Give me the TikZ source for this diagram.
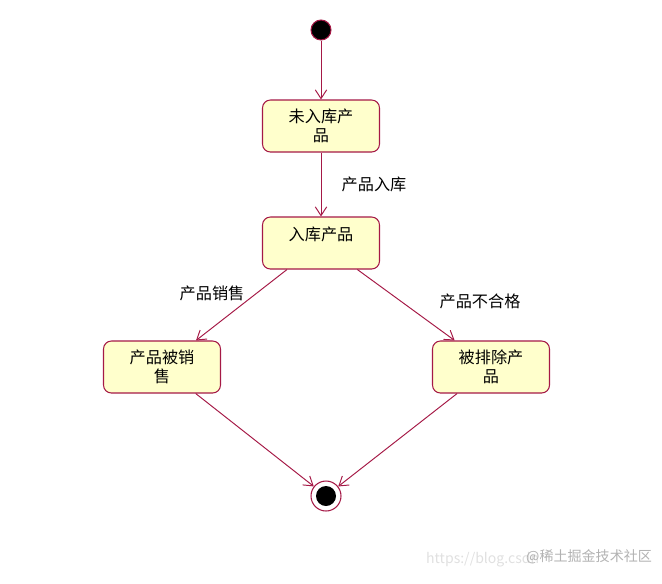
\documentclass[tikz,border=0pt]{standalone}
\usepackage{fontspec}
\setmainfont{Noto Sans CJK SC}
\usetikzlibrary{arrows.meta,positioning}
\definecolor{umlline}{RGB}{165,25,70}
\definecolor{umlfill}{RGB}{255,255,204}

\begin{document}
\begin{tikzpicture}[x=0.02cm,y=-0.02cm]
            \tikzset{
                every node/.style={font=\fontsize{9.2}{10.8}\selectfont},
                state/.style={draw=umlline, fill=umlfill, line width=0.6pt, rounded corners=4.5pt,
                    minimum width=2.34cm, minimum height=1.04cm, align=center, inner sep=1pt},
                trans/.style={draw=umlline, line width=0.55pt, -{Straight Barb[length=5pt,width=6.5pt]}},
                tlabel/.style={inner sep=1pt}
            }
            \useasboundingbox (0,0) rectangle (662,583);
            % start and end
            \node[circle, draw=umlline, fill=black, line width=0.6pt, minimum size=0.4cm, inner sep=0] (start) at (321,30) {};
            \node[circle, draw=umlline, line width=0.6pt, minimum size=0.6cm, inner sep=0] (end) at (326,496) {};
            \node[circle, fill=black, minimum size=0.4cm, inner sep=0] (endcore) at (end) {};
            % states
            \node[state] (stock0) at (321,126) {未入库产\\品};
            \node[state] (stock1) at (321,243) {入库产品\\\mbox{}};
            \node[state] (sold) at (162,367) {产品被销\\售};
            \node[state] (reject) at (491,367) {被排除产\\品};
            % transitions
            \draw[trans] (start) -- (stock0);
            \draw[trans] (stock0) -- (stock1);
            \draw[trans] (stock1) -- (sold);
            \draw[trans] (stock1) -- (reject);
            \draw[trans] (sold) -- (end);
            \draw[trans] (reject) -- (end);
            % labels
            \node[tlabel] (lbin) at (374,184) {产品入库};
            \node[tlabel] (lbsold) at (212,293) {产品销售};
            \node[tlabel] (lbrej) at (480,301) {产品不合格};
            % watermark
            \node[text=black!12, font=\fontsize{8}{10}\selectfont, anchor=west] (url) at (420,560) {https://blog.csdn};
            \node[text=black!30, font=\fontsize{8}{10}\selectfont, anchor=west] (mark) at (520,557) {@稀土掘金技术社区};
        \end{tikzpicture}
\end{document}
